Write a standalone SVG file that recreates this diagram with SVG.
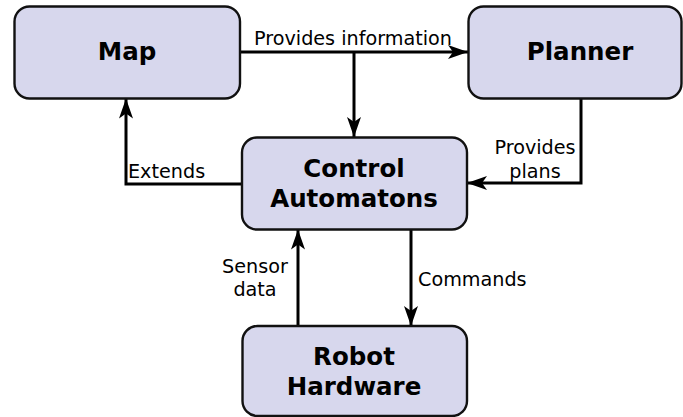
<svg xmlns="http://www.w3.org/2000/svg" width="683" height="417" viewBox="0 0 683 417">
  <style>
    .box { fill: #d7d7ed; stroke: #111; stroke-width: 2.4; }
    .title { font-family: "DejaVu Sans", sans-serif; font-weight: bold; font-size: 24.5px; text-anchor: middle; fill: #000; }
    .label { font-family: "DejaVu Sans", sans-serif; font-size: 19.2px; fill: #000; }
    .wire { fill: none; stroke: #000; stroke-width: 3; }
  </style>
  <defs>
    <marker id="arrow" viewBox="0 0 20 14" refX="20" refY="7" markerWidth="20" markerHeight="14" markerUnits="userSpaceOnUse" orient="auto">
      <path d="M20,7 L0,0 L5,7 L0,14 Z" fill="#000"/>
    </marker>
  </defs>

  <g id="connectors">
    <!-- Map to Planner -->
    <path class="wire" d="M240,52 H468" marker-end="url(#arrow)"/>
    <!-- branch down to Control Automatons -->
    <path class="wire" d="M354,52 V137" marker-end="url(#arrow)"/>
    <!-- Planner to Control Automatons -->
    <path class="wire" d="M581,98 V183 H467" marker-end="url(#arrow)"/>
    <!-- Control Automatons extends Map -->
    <path class="wire" d="M242,184 H126 V98.5" marker-end="url(#arrow)"/>
    <!-- Robot Hardware sensor data -->
    <path class="wire" d="M298,326 V229.5" marker-end="url(#arrow)"/>
    <!-- Commands to Robot Hardware -->
    <path class="wire" d="M411,229.5 V326" marker-end="url(#arrow)"/>

    <text class="label" x="254" y="45">Provides information</text>
    <text class="label" x="535" y="154" text-anchor="middle">Provides</text>
    <text class="label" x="535" y="178" text-anchor="middle">plans</text>
    <text class="label" x="128" y="178">Extends</text>
    <text class="label" x="255" y="273" text-anchor="middle">Sensor</text>
    <text class="label" x="255" y="296" text-anchor="middle">data</text>
    <text class="label" x="418" y="286">Commands</text>
  </g>

  <g id="map">
    <rect class="box" x="14.5" y="6.5" width="225.5" height="92" rx="15"/>
    <text class="title" x="127" y="60">Map</text>
  </g>

  <g id="planner">
    <rect class="box" x="468.5" y="6.5" width="213" height="92" rx="15"/>
    <text class="title" x="580" y="60">Planner</text>
  </g>

  <g id="control-automatons">
    <rect class="box" x="242" y="137.5" width="225" height="92" rx="15"/>
    <text class="title" x="354" y="177">Control</text>
    <text class="title" x="354" y="207">Automatons</text>
  </g>

  <g id="robot-hardware">
    <rect class="box" x="242.5" y="326" width="224.5" height="90" rx="15"/>
    <text class="title" x="354" y="365">Robot</text>
    <text class="title" x="354" y="395">Hardware</text>
  </g>
</svg>
